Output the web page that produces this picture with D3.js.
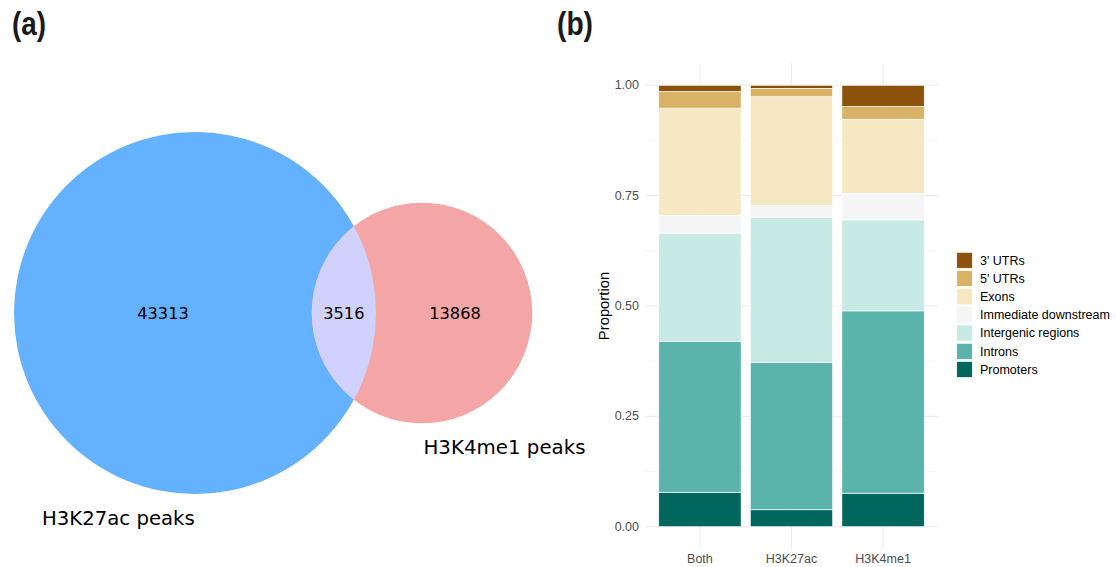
<!DOCTYPE html>
<html>
<head>
<meta charset="utf-8">
<script src="https://cdn.jsdelivr.net/npm/d3@7/dist/d3.min.js"></script>
<style>
  html, body { margin: 0; padding: 0; background: #fff; }
  svg { display: block; }
</style>
</head>
<body>
<svg id="fig" width="1116" height="567"></svg>
<script>
// ---- Panel (a): peak overlap counts ----
const vennSets = ["H3K27ac peaks", "H3K4me1 peaks"];
const vennOnly = [43313, 13868];      // peaks unique to each set
const vennShared = 3516;              // peaks found in both sets
const vennColors = ["#63b1ff", "#f4a6a6"];
const vennOverlapColor = "#d1d1fe";

// ---- Panel (b): genomic annotation proportions ----
const groups = ["Both", "H3K27ac", "H3K4me1"];
const features = ["Promoters", "Introns", "Intergenic regions", "Immediate downstream", "Exons", "5' UTRs", "3' UTRs"];
const promoters  = [0.078, 0.0385, 0.076];
const introns    = [0.342, 0.3335, 0.413];
const intergenic = [0.245, 0.329, 0.206];
const downstream = [0.040, 0.027, 0.060];
const exons      = [0.243, 0.246, 0.168];
const utr5       = [0.038, 0.019, 0.029];
const utr3       = [0.014, 0.007, 0.048];
const featureColors = ["#01665e", "#5ab4ac", "#c7eae5", "#f5f5f5", "#f6e8c3", "#d8b365", "#8c510a"];
const yTicks = [0, 0.25, 0.5, 0.75, 1.0];

const svg = d3.select("#fig");

// panel tags
svg.append("text").attr("x", 12).attr("y", 35)
  .attr("font-family", "Liberation Sans, Arial, sans-serif").attr("font-weight", "bold")
  .attr("font-size", 33).attr("textLength", 34).attr("lengthAdjust", "spacingAndGlyphs")
  .attr("fill", "#1a1a1a").text("(a)");
svg.append("text").attr("x", 557).attr("y", 35)
  .attr("font-family", "Liberation Sans, Arial, sans-serif").attr("font-weight", "bold")
  .attr("font-size", 33).attr("textLength", 36).attr("lengthAdjust", "spacingAndGlyphs")
  .attr("fill", "#1a1a1a").text("(b)");

// ===== Venn diagram =====
const setTotals = vennOnly.map(v => v + vennShared);
const rScale = d3.scaleSqrt().domain([0, setTotals[0]]).range([0, 181]);
const radii = setTotals.map(t => rScale(t));
const cy = 313;
const cx = [195, 422];

const venn = svg.append("g");
const defs = svg.append("defs");
defs.append("clipPath").attr("id", "clipA")
  .append("circle").attr("cx", cx[0]).attr("cy", cy).attr("r", radii[0]);

venn.selectAll("circle.set").data(radii).join("circle")
  .attr("class", "set")
  .attr("cx", (d, i) => cx[i]).attr("cy", cy).attr("r", d => d)
  .attr("fill", (d, i) => vennColors[i]);
venn.append("circle")
  .attr("cx", cx[1]).attr("cy", cy).attr("r", radii[1])
  .attr("clip-path", "url(#clipA)")
  .attr("fill", vennOverlapColor);

const lensMid = ((cx[1] - radii[1]) + (cx[0] + radii[0])) / 2;
const countLabels = [
  { x: 163, v: vennOnly[0] },
  { x: lensMid, v: vennShared },
  { x: 455, v: vennOnly[1] }
];
venn.selectAll("text.count").data(countLabels).join("text")
  .attr("class", "count")
  .attr("x", d => d.x).attr("y", 313)
  .attr("text-anchor", "middle").attr("dominant-baseline", "central")
  .attr("font-family", "DejaVu Sans, sans-serif").attr("font-size", 16.2)
  .attr("fill", "#000").text(d => d.v);

venn.append("text").attr("x", 42).attr("y", 525)
  .attr("font-family", "DejaVu Sans, sans-serif").attr("font-size", 19.7)
  .attr("fill", "#000").text(vennSets[0]);
venn.append("text").attr("x", 423.5).attr("y", 454)
  .attr("font-family", "DejaVu Sans, sans-serif").attr("font-size", 19.8)
  .attr("fill", "#000").text(vennSets[1]);

// ===== Stacked proportion bars =====
const series = [promoters, introns, intergenic, downstream, exons, utr5, utr3];
const rows = groups.map((g, i) => {
  const r = { group: g };
  features.forEach((f, k) => { r[f] = series[k][i]; });
  return r;
});
const stacked = d3.stack().keys(features)(rows);

const panel = { left: 645, right: 938, top: 63.2, bottom: 548.8 };
const x = d3.scaleBand().domain(groups)
  .range([panel.left, panel.right]).paddingInner(0.1).paddingOuter(0.15);
// ggplot-style continuous expansion of 5% on each side
const y = d3.scaleLinear().domain([-0.05, 1.05]).range([panel.bottom, panel.top]);

const g = svg.append("g");
// minor grid
g.selectAll("line.minor").data([0.125, 0.375, 0.625, 0.875]).join("line")
  .attr("x1", panel.left).attr("x2", panel.right)
  .attr("y1", d => y(d)).attr("y2", d => y(d))
  .attr("stroke", "#f2f2f2").attr("stroke-width", 0.6);
// major grid
g.selectAll("line.major").data(yTicks).join("line")
  .attr("x1", panel.left).attr("x2", panel.right)
  .attr("y1", d => y(d)).attr("y2", d => y(d))
  .attr("stroke", "#ebebeb").attr("stroke-width", 1.1);
g.selectAll("line.vgrid").data(groups).join("line")
  .attr("x1", d => x(d) + x.bandwidth() / 2).attr("x2", d => x(d) + x.bandwidth() / 2)
  .attr("y1", panel.top).attr("y2", panel.bottom)
  .attr("stroke", "#ebebeb").attr("stroke-width", 1.1);

g.selectAll("g.layer").data(stacked).join("g")
  .attr("class", "layer")
  .attr("fill", (d, i) => featureColors[i])
  .selectAll("rect").data(d => d).join("rect")
  .attr("x", d => x(d.data.group))
  .attr("width", x.bandwidth())
  .attr("y", d => y(d[1]))
  .attr("height", d => y(d[0]) - y(d[1]))
  .attr("stroke", "#ffffff").attr("stroke-width", 0.7);

// y tick labels
g.selectAll("text.ytick").data(yTicks).join("text")
  .attr("class", "ytick")
  .attr("x", 639).attr("y", d => y(d))
  .attr("text-anchor", "end").attr("dominant-baseline", "central")
  .attr("font-family", "Liberation Sans, Arial, sans-serif").attr("font-size", 12.5)
  .attr("fill", "#4d4d4d").text(d => d3.format(".2f")(d));
// x tick labels
g.selectAll("text.xtick").data(groups).join("text")
  .attr("class", "xtick")
  .attr("x", d => x(d) + x.bandwidth() / 2).attr("y", 559)
  .attr("text-anchor", "middle").attr("dominant-baseline", "central")
  .attr("font-family", "Liberation Sans, Arial, sans-serif").attr("font-size", 12.5)
  .attr("fill", "#4d4d4d").text(d => d);
// axis title
g.append("text")
  .attr("transform", "translate(604,306) rotate(-90)")
  .attr("text-anchor", "middle").attr("dominant-baseline", "central")
  .attr("font-family", "Liberation Sans, Arial, sans-serif").attr("font-size", 14.8)
  .attr("fill", "#000").text("Proportion");

// legend, listed top to bottom in reverse stacking order
const legendItems = features.map((f, i) => ({ f, c: featureColors[i] })).reverse();
const leg = g.append("g").attr("transform", "translate(956.7,252.3)");
const li = leg.selectAll("g").data(legendItems).join("g")
  .attr("transform", (d, i) => `translate(0,${i * 18.2})`);
li.append("rect").attr("width", 15.6).attr("height", 16)
  .attr("fill", d => d.c).attr("stroke", "#ffffff").attr("stroke-width", 0.7);
li.append("text").attr("x", 23.3).attr("y", 8.3)
  .attr("dominant-baseline", "central")
  .attr("font-family", "Liberation Sans, Arial, sans-serif").attr("font-size", 12.5)
  .attr("fill", "#000").text(d => d.f);
</script>
</body>
</html>
